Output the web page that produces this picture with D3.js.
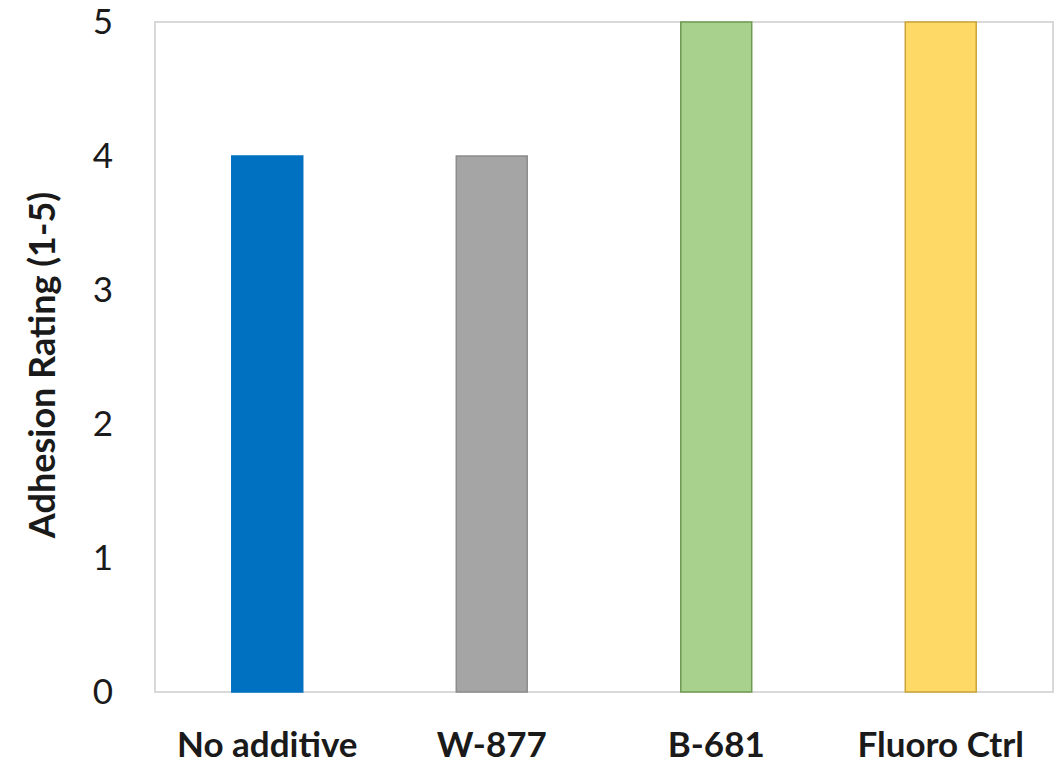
<!DOCTYPE html>
<html>
<head>
<meta charset="utf-8">
<script src="https://cdn.jsdelivr.net/npm/d3@7"></script>
<style>
  html, body { margin: 0; padding: 0; background: #ffffff; }
  svg { display: block; }
  text { font-family: Lato, "Open Sans", sans-serif; fill: #1a1a1a; }
</style>
</head>
<body>
<svg id="chart" width="1059" height="764"></svg>
<script>
// Adhesion rating per formulation
const categories = ["No additive", "W-877", "B-681", "Fluoro Ctrl"];
const ratings = [4, 4, 5, 5];
const fills = ["#0070C0", "#A5A5A5", "#A9D18E", "#FFD966"];
const strokes = ["#0070C0", "#8C8C8C", "#6E9A52", "#C9A43A"];
const yTicks = [0, 1, 2, 3, 4, 5];

const svg = d3.select("#chart");
const margin = { left: 155, top: 22, right: 6, bottom: 72 };
const W = 1059, H = 764;
const plotW = W - margin.left - margin.right;
const plotH = H - margin.top - margin.bottom;

const x = d3.scaleBand().domain(categories).range([0, plotW]).paddingInner(0.684).paddingOuter(0.342);
const y = d3.scaleLinear().domain([0, 5]).range([plotH, 0]);

const g = svg.append("g").attr("transform", `translate(${margin.left},${margin.top})`);

// plot area frame
g.append("rect")
  .attr("x", 0).attr("y", 0).attr("width", plotW).attr("height", plotH)
  .attr("fill", "none").attr("stroke", "#d9d9d9").attr("stroke-width", 2);

// bars
g.selectAll("rect.bar").data(categories).enter().append("rect")
  .attr("class", "bar")
  .attr("x", d => x(d))
  .attr("y", (d, i) => y(ratings[i]))
  .attr("width", x.bandwidth())
  .attr("height", (d, i) => y(0) - y(ratings[i]))
  .attr("fill", (d, i) => fills[i])
  .attr("stroke", (d, i) => strokes[i])
  .attr("stroke-width", 1.5);

// y axis labels
const yAxis = d3.axisLeft(y).tickValues(yTicks).tickFormat(d3.format("d")).tickSize(0).tickPadding(42);
const ya = g.append("g").call(yAxis);
ya.select(".domain").remove();
ya.selectAll("text").style("font-size", "35px").style("font-family", "Lato, 'Open Sans', sans-serif").attr("fill", "#1a1a1a");

// x axis labels
const xAxis = d3.axisBottom(x).tickSize(0).tickPadding(40);
const xa = g.append("g").attr("transform", `translate(0,${plotH})`).call(xAxis);
xa.select(".domain").remove();
xa.selectAll("text").style("font-size", "35px").style("font-weight", "bold")
  .style("font-family", "Lato, 'Open Sans', sans-serif").attr("fill", "#111");

// y axis title
svg.append("text")
  .attr("transform", `translate(55,${margin.top + plotH / 2 + 8}) rotate(-90)`)
  .attr("text-anchor", "middle")
  .style("font-size", "36px").style("font-weight", "bold")
  .text("Adhesion Rating (1-5)");
</script>
</body>
</html>
